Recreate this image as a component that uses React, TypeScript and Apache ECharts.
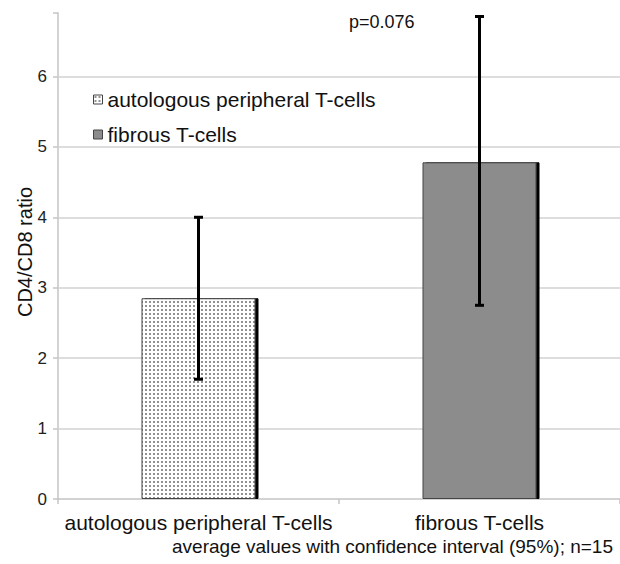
import React, { useEffect, useRef } from "react";
import * as echarts from "echarts";

const categories = ["autologous peripheral T-cells", "fibrous T-cells"];
const seriesNames = ["autologous peripheral T-cells", "fibrous T-cells"];
const meanValues = [2.85, 4.78];
const ciLow = [1.7, 2.75];
const ciHigh = [4.0, 6.85];
const gridTicks = [1, 2, 3, 4, 5, 6];
const pValueText = "p=0.076";
const footnote = "average values with confidence interval (95%); n=15";
const yAxisTitle = "CD4/CD8 ratio";

const FONT = "'Liberation Sans', Arial, sans-serif";

function makeDotPattern() {
  const c = document.createElement("canvas");
  c.width = 4;
  c.height = 4;
  const ctx = c.getContext("2d")!;
  ctx.fillStyle = "#ffffff";
  ctx.fillRect(0, 0, 4, 4);
  ctx.fillStyle = "#6e6e6e";
  ctx.beginPath();
  ctx.arc(2, 2, 1, 0, Math.PI * 2);
  ctx.fill();
  return c;
}

export default function App() {
  const ref = useRef<HTMLDivElement>(null);
  useEffect(() => {
    document.body.style.margin = "0";
    const chart = echarts.init(ref.current!, null, { renderer: "svg" });
    const errData = categories.map((_, i) => [i, ciLow[i], ciHigh[i]]);
    const barData1 = categories.map((_, i) => (i === 0 ? meanValues[i] : "-"));
    const barData2 = categories.map((_, i) => (i === 1 ? meanValues[i] : "-"));
    const dotFill = { image: makeDotPattern(), repeat: "repeat", imageWidth: 4, imageHeight: 4 };
    const barItemBase = {
      borderColor: "#444",
      borderWidth: 1,
      shadowColor: "#000",
      shadowOffsetX: 3,
      shadowOffsetY: 0,
      shadowBlur: 0,
    };
    chart.setOption({
      animation: false,
      textStyle: { fontFamily: FONT },
      grid: { left: 58, right: 0, top: 13, bottom: 65 },
      legend: {
        data: seriesNames,
        orient: "vertical",
        left: 93,
        top: 89,
        padding: 0,
        itemWidth: 9,
        itemHeight: 9,
        itemGap: 14,
        icon: "rect",
        textStyle: { fontSize: 21, color: "#111", fontFamily: FONT, lineHeight: 21 },
        itemStyle: { shadowBlur: 0, shadowOffsetX: 0, shadowColor: "transparent", borderColor: "#444", borderWidth: 1 },
        selectedMode: false,
      },
      xAxis: {
        type: "category",
        data: categories,
        axisLine: { lineStyle: { color: "#c4c4c4", width: 1.5 } },
        axisTick: { show: true, length: 5, lineStyle: { color: "#c4c4c4", width: 1.5 } },
        axisLabel: { fontSize: 21, color: "#111", margin: 13, interval: 0, fontFamily: FONT },
      },
      yAxis: {
        type: "value",
        min: 0,
        max: 6.9,
        interval: 1,
        axisLine: { show: true, lineStyle: { color: "#c4c4c4", width: 1.5 } },
        axisTick: { show: true, length: 5, lineStyle: { color: "#c4c4c4", width: 1.5 } },
        axisLabel: {
          fontSize: 17,
          color: "#222",
          margin: 11,
          fontFamily: FONT,
          formatter: (v: number) => (Number.isInteger(v) ? String(v) : ""),
        },
        splitLine: { show: false },
      },
      series: [
        {
          name: seriesNames[0],
          type: "bar",
          data: barData1,
          barWidth: 114,
          barGap: "-100%",
          z: 2,
          itemStyle: { ...barItemBase, color: dotFill },
          markLine: {
            silent: true,
            symbol: "none",
            z: 1,
            label: { show: false },
            lineStyle: { color: "#d2d2d2", width: 1.5, type: "solid" },
            data: gridTicks.map((t) => ({ yAxis: t })),
          },
        },
        {
          name: seriesNames[1],
          type: "bar",
          data: barData2,
          barWidth: 114,
          barGap: "-100%",
          z: 2,
          itemStyle: { ...barItemBase, color: "#8c8c8c" },
        },
        {
          name: "CI",
          type: "custom",
          z: 10,
          data: errData,
          encode: { x: 0, y: [1, 2] },
          renderItem: (_params: any, api: any) => {
            const c = api.value(0);
            const lo = api.coord([c, api.value(1)]);
            const hi = api.coord([c, api.value(2)]);
            const cap = 4.5;
            const style = { stroke: "#000", lineWidth: 3 };
            return {
              type: "group",
              children: [
                { type: "line", shape: { x1: lo[0], y1: lo[1], x2: hi[0], y2: hi[1] }, style },
                { type: "line", shape: { x1: hi[0] - cap, y1: hi[1], x2: hi[0] + cap, y2: hi[1] }, style },
                { type: "line", shape: { x1: lo[0] - cap, y1: lo[1], x2: lo[0] + cap, y2: lo[1] }, style },
              ],
            };
          },
        },
      ],
      graphic: [
        {
          type: "text",
          left: 349,
          top: 13,
          style: { text: pValueText, fill: "#111", font: `18px ${FONT}` },
        },
        {
          type: "text",
          right: 7,
          top: 537,
          style: { text: footnote, fill: "#111", font: `19px ${FONT}` },
        },
        {
          type: "text",
          x: 25,
          y: 252,
          rotation: Math.PI / 2,
          style: {
            text: yAxisTitle,
            fill: "#111",
            font: `20px ${FONT}`,
            align: "center",
            verticalAlign: "middle",
          },
        },
      ],
    });
    return () => chart.dispose();
  }, []);
  return <div ref={ref} style={{ width: 620, height: 564 }} />;
}
